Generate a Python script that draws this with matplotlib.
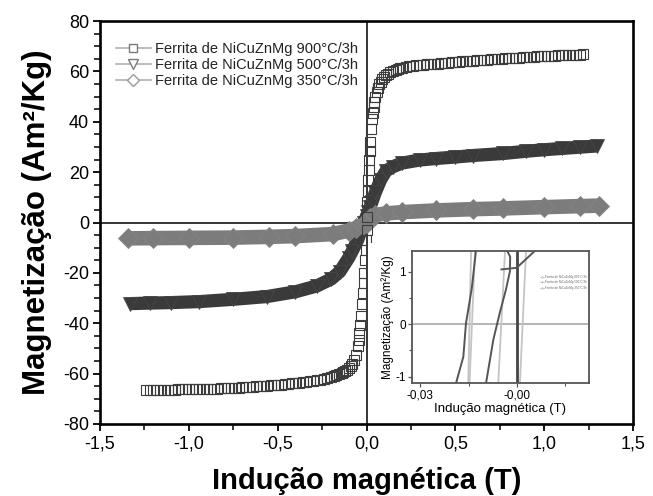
import matplotlib
matplotlib.use("Agg")
import matplotlib.pyplot as plt
from matplotlib.lines import Line2D
from matplotlib.patches import Rectangle
from matplotlib.ticker import MultipleLocator, FuncFormatter

plt.rcParams['font.family'] = ['Liberation Sans', 'DejaVu Sans']

# ---------------- data ----------------
labels = ["Ferrita de NiCuZnMg 900°C/3h",
          "Ferrita de NiCuZnMg 500°C/3h",
          "Ferrita de NiCuZnMg 350°C/3h"]

# 900 °C/3h : negative-field part
H_900_neg = [-1.24, -1.22, -1.20, -1.18, -1.16, -1.14, -1.12, -1.10, -1.08, -1.06,
             -1.04, -1.02, -1.00, -0.98, -0.96, -0.94, -0.92, -0.90, -0.88, -0.86,
             -0.84, -0.82, -0.80, -0.78, -0.76, -0.74, -0.72, -0.70, -0.68, -0.66,
             -0.64, -0.62, -0.60, -0.58, -0.56, -0.54, -0.52, -0.50, -0.48, -0.46,
             -0.44, -0.42, -0.40, -0.38, -0.36, -0.34, -0.32, -0.30, -0.28, -0.26,
             -0.24, -0.22, -0.20, -0.185, -0.17, -0.155, -0.14, -0.13, -0.12, -0.11,
             -0.10, -0.09, -0.08, -0.07, -0.06, -0.05, -0.045, -0.04, -0.035, -0.03,
             -0.025, -0.02, -0.016, -0.012, -0.008, -0.005, -0.002]
M_900_neg = [-66.5, -66.6, -66.6, -66.5, -66.5, -66.5, -66.4, -66.4, -66.4, -66.3,
             -66.3, -66.3, -66.3, -66.2, -66.2, -66.1, -66.1, -66.0, -66.0, -66.0,
             -66.0, -65.9, -65.9, -65.8, -65.8, -65.7, -65.6, -65.5, -65.5, -65.4,
             -65.3, -65.1, -65.0, -64.9, -64.8, -64.7, -64.6, -64.5, -64.4, -64.2,
             -64.1, -63.9, -63.8, -63.6, -63.5, -63.3, -63.1, -62.9, -62.7, -62.4,
             -62.2, -61.9, -61.5, -61.1, -60.7, -60.2, -59.8, -59.4, -59.0, -58.4,
             -57.8, -57.0, -56.0, -54.5, -52.5, -49.0, -46.5, -44.0, -40.5, -37.0,
             -32.5, -28.0, -24.0, -20.0, -15.0, -11.0, -7.0]
# 900 °C/3h : positive-field part
H_900_pos = [0.0, 0.002, 0.005, 0.008, 0.01, 0.0125, 0.015, 0.0175, 0.02, 0.025,
             0.03, 0.035, 0.04, 0.045, 0.05, 0.057, 0.065, 0.072, 0.08, 0.09,
             0.10, 0.11, 0.12, 0.135, 0.15, 0.165, 0.18, 0.19, 0.20, 0.22,
             0.24, 0.26, 0.28, 0.30, 0.32, 0.34, 0.36, 0.38, 0.40, 0.42,
             0.44, 0.46, 0.48, 0.50, 0.52, 0.54, 0.56, 0.58, 0.60, 0.62,
             0.64, 0.66, 0.68, 0.70, 0.72, 0.74, 0.76, 0.78, 0.80, 0.82,
             0.84, 0.86, 0.88, 0.90, 0.92, 0.94, 0.96, 0.98, 1.00, 1.02,
             1.04, 1.06, 1.08, 1.10, 1.12, 1.14, 1.16, 1.18, 1.20, 1.22]
M_900_pos = [-3.0, 2.0, 8.0, 12.5, 17.0, 21.0, 25.0, 28.5, 32.0, 37.0,
             41.0, 43.5, 46.0, 48.0, 50.0, 52.0, 53.5, 54.8, 55.8, 56.9,
             57.8, 58.5, 59.0, 59.7, 60.3, 60.7, 61.1, 61.3, 61.5, 61.8,
             62.0, 62.2, 62.35, 62.5, 62.6, 62.8, 62.9, 63.0, 63.1, 63.3,
             63.4, 63.5, 63.6, 63.7, 63.85, 64.0, 64.1, 64.2, 64.3, 64.4,
             64.5, 64.6, 64.7, 64.8, 64.9, 65.0, 65.1, 65.2, 65.3, 65.4,
             65.45, 65.5, 65.6, 65.7, 65.8, 65.9, 65.95, 66.0, 66.05, 66.1,
             66.2, 66.3, 66.35, 66.4, 66.45, 66.5, 66.55, 66.6, 66.65, 66.7]

H_500 = [-1.33, -1.22, -1.10, -0.94, -0.75, -0.56, -0.40, -0.28, -0.20, -0.15,
         -0.10, -0.08, -0.05, -0.03, -0.015, 0.0, 0.01, 0.02, 0.03, 0.05,
         0.08, 0.11, 0.15, 0.20, 0.30, 0.39, 0.50, 0.60, 0.77, 0.90,
         1.00, 1.10, 1.20, 1.30]
M_500 = [-32.2, -32.0, -31.8, -31.4, -30.5, -29.4, -27.5, -25.2, -22.5, -19.5,
         -14.0, -11.3, -7.0, -3.0, 0.0, 2.5, 4.3, 6.0, 8.0, 12.0,
         17.0, 20.5, 22.2, 23.6, 24.8, 25.4, 26.0, 26.6, 27.4, 28.3,
         28.9, 29.4, 29.9, 30.4]

H_350 = [-1.34, -1.20, -1.00, -0.75, -0.55, -0.40, -0.19, -0.10, -0.06, -0.02,
         0.0, 0.02, 0.05, 0.11, 0.20, 0.39, 0.60, 0.77, 1.00, 1.20, 1.31]
M_350 = [-6.3, -6.2, -6.1, -6.0, -5.7, -5.4, -4.6, -3.2, -2.2, -1.0,
         0.0, 1.8, 3.0, 3.6, 4.1, 4.8, 5.3, 5.6, 6.1, 6.5, 6.7]

# inset (zoom near origin) branches
ins_d1_H = [-0.0189, -0.0166, -0.0158, -0.0140, -0.0127]
ins_d1_M = [-1.13, -0.62, 0.01, 0.68, 1.39]
ins_l1_H = [-0.0151, -0.0142]
ins_l1_M = [-1.13, 1.39]
ins_l2_H = [-0.0147, -0.0130]
ins_l2_M = [-1.13, 1.39]
ins_d2_H = [-0.0096, -0.0073, -0.0053, -0.0034, -0.0022, -0.0021, -0.0030]
ins_d2_M = [-1.13, -0.29, 0.22, 0.66, 1.00, 1.28, 1.39]
ins_l3_H = [-0.0058, -0.0037]
ins_l3_M = [-1.13, 1.39]
ins_d3_H = [0.0, 0.0]
ins_d3_M = [-1.13, 1.39]
ins_d4_H = [-0.0048, -0.0001, 0.0055]
ins_d4_M = [1.04, 1.07, 1.39]
ins_l4_H = [0.0009, 0.0028]
ins_l4_M = [-1.13, 1.39]

xticks_main = [-1.5, -1.0, -0.5, 0.0, 0.5, 1.0, 1.5]
yticks_main = [-80, -60, -40, -20, 0, 20, 40, 60, 80]

# ---------------- figure ----------------
fig = plt.figure(figsize=(6.53, 4.96), dpi=100)
ax = fig.add_axes([100/653, 72/496, 533/653, 403/496])

ax.axhline(0, color='black', lw=1.1, zorder=1)
ax.axvline(0, color='black', lw=1.1, zorder=1)

c5 = '#3a3a3a'
c3 = '#7c7c7c'
ax.plot(H_500, M_500, color=c5, lw=9.5, solid_capstyle='butt', zorder=2)
ax.plot(H_500, M_500, ls='none', marker='v', ms=10.5, mfc=c5, mec='#474747', mew=0.6, zorder=2.05)
ax.plot(H_350, M_350, color=c3, lw=10.5, solid_capstyle='butt', zorder=2.1)
ax.plot(H_350, M_350, ls='none', marker='D', ms=10, mfc=c3, mec='#858585', mew=0.6, zorder=2.15)
H_900 = H_900_neg + H_900_pos
M_900 = M_900_neg + M_900_pos
ax.plot(H_900, M_900, ls='none', marker='s', ms=6.8, mfc='none', mec='#3c3c3c', mew=0.8, zorder=2.2)

ax.set_xlim(-1.5, 1.5)
ax.set_ylim(-80, 80)
ax.set_xticks(xticks_main)
ax.set_yticks(yticks_main)
ax.xaxis.set_minor_locator(MultipleLocator(0.25))
ax.yaxis.set_minor_locator(MultipleLocator(5))
ax.xaxis.set_major_formatter(FuncFormatter(lambda v, p: f"{v:.1f}".replace('.', ',')))
ax.yaxis.set_major_formatter(FuncFormatter(lambda v, p: f"{v:.0f}"))
for s in ax.spines.values():
    s.set_linewidth(1.9)
ax.tick_params(which='major', direction='out', length=5, width=1.3, labelsize=13, pad=3)
ax.tick_params(which='minor', direction='out', length=4, width=1.1)
ax.set_xlabel("Indução magnética (T)", fontsize=21, fontweight='bold', labelpad=11)
ax.set_ylabel("Magnetização (Am²/Kg)", fontsize=22.5, fontweight='bold', labelpad=8)

handles = [Line2D([], [], color='#b0b0b0', lw=1.2, marker='s', ms=6, mfc='white', mec='#7a7a7a'),
           Line2D([], [], color='#b0b0b0', lw=1.2, marker='v', ms=7, mfc='white', mec='#7a7a7a'),
           Line2D([], [], color='#b0b0b0', lw=1.2, marker='D', ms=6, mfc='white', mec='#9a9a9a')]
ax.legend(handles, labels, loc='upper left', bbox_to_anchor=(0.01, 0.972), frameon=False,
          fontsize=10.5, handlelength=2.4, handletextpad=0.3, labelspacing=0.12,
          borderpad=0.2, labelcolor='#222222')

# white box behind the inset
ax.add_patch(Rectangle((0.503, 0.003), 0.494, 0.446, transform=ax.transAxes,
                       facecolor='white', edgecolor='none', zorder=2.4))

# ---------------- inset ----------------
ai = fig.add_axes([412/653, 113/496, 177/653, 132/496])
ai.set_zorder(5)
ai.axhline(0, color='#a8a8a8', lw=1.2, zorder=1)
lc = '#c4c4c4'
dc = '#555555'
ai.plot(ins_l1_H, ins_l1_M, color=lc, lw=1.3)
ai.plot(ins_l2_H, ins_l2_M, color=lc, lw=1.3)
ai.plot(ins_l3_H, ins_l3_M, color=lc, lw=1.3)
ai.plot(ins_l4_H, ins_l4_M, color=lc, lw=1.3)
ai.plot(ins_d1_H, ins_d1_M, color=dc, lw=1.4)
ai.plot(ins_d2_H, ins_d2_M, color=dc, lw=1.4)
ai.plot(ins_d3_H, ins_d3_M, color='#444444', lw=2.0)
ai.plot(ins_d4_H, ins_d4_M, color=dc, lw=1.4)
ai.set_xlim(-0.0325, 0.0223)
ai.set_ylim(-1.12, 1.39)
ai.set_xticks([-0.03, 0.0])
ai.set_yticks([-1, 0, 1])
ai.xaxis.set_minor_locator(MultipleLocator(0.015))
ai.yaxis.set_minor_locator(MultipleLocator(0.5))
ai.set_xticklabels(["-0,03", "-0,00"])
ai.set_yticklabels(["-1", "0", "1"])
for s in ai.spines.values():
    s.set_linewidth(1.3)
    s.set_color('#555555')
ai.tick_params(which='major', direction='out', length=3, width=0.9, color='#555555', labelsize=8.5, pad=1.5)
ai.tick_params(which='minor', direction='out', length=2, width=0.8, color='#555555')
ai.set_xlabel("Indução magnética (T)", fontsize=9.5, labelpad=1)
ai.set_ylabel("Magnetização (Am²/Kg)", fontsize=8.5, labelpad=1)
ih = [Line2D([], [], color='#bbbbbb', lw=0.5, marker='s', ms=1, mfc='white', mec='#999999', mew=0.3),
      Line2D([], [], color='#bbbbbb', lw=0.5, marker='v', ms=1, mfc='white', mec='#999999', mew=0.3),
      Line2D([], [], color='#bbbbbb', lw=0.5, marker='D', ms=1, mfc='white', mec='#999999', mew=0.3)]
ai.legend(ih, labels, loc='upper right', bbox_to_anchor=(1.0, 0.83), frameon=False,
          fontsize=2.2, handlelength=1.5, handletextpad=0.3, labelspacing=0.4, borderpad=0.1,
          labelcolor='#666666')

fig.savefig("out.png", dpi=100)
